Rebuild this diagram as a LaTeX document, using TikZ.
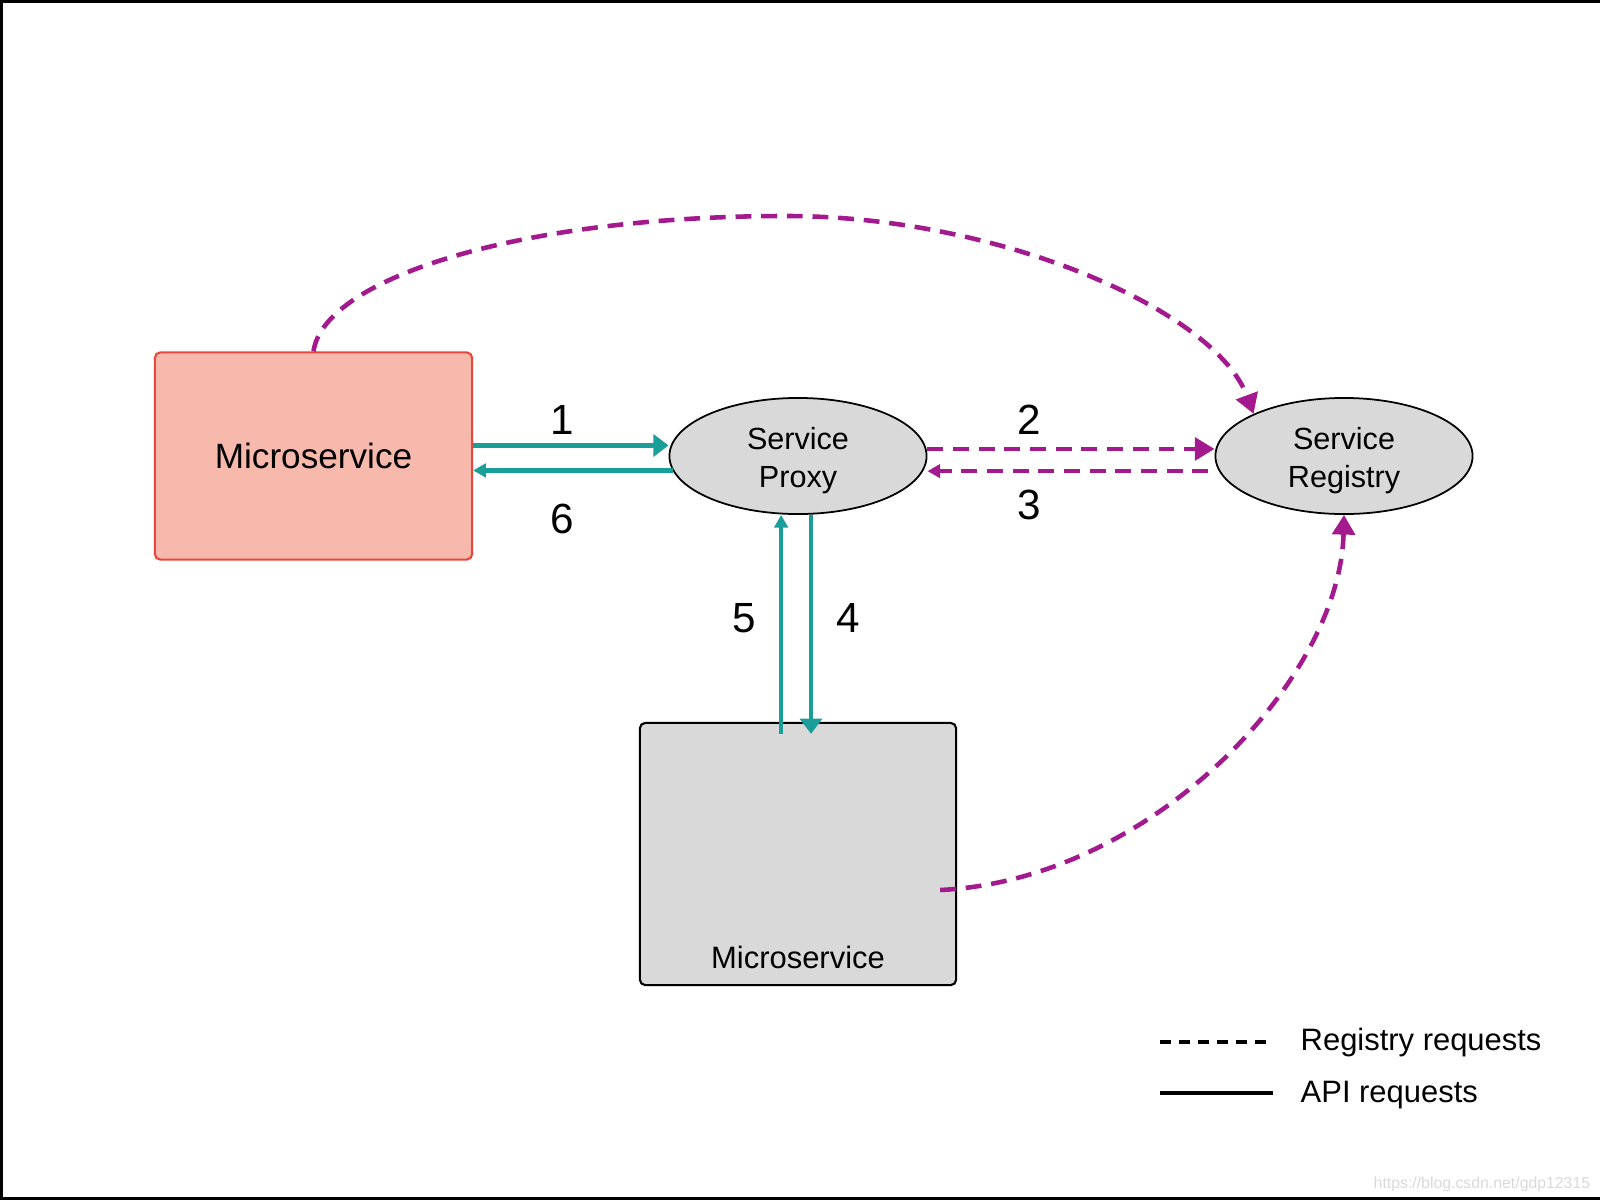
\documentclass[tikz,border=0pt]{standalone}
\usepackage{fontspec}
\setmainfont{Liberation Sans}
\usetikzlibrary{shapes.geometric,arrows.meta,calc}
\definecolor{apiteal}{HTML}{1A9E9A}
\definecolor{regpurple}{HTML}{A3198E}
\definecolor{msfill}{HTML}{F8B9AD}
\definecolor{msborder}{HTML}{E8463A}
\definecolor{boxgray}{HTML}{D9D9D9}

\begin{document}
\begin{tikzpicture}[x=0.01cm, y=-0.01cm,
  msbox/.style={shape=rectangle, draw=msborder, fill=msfill, line width=0.6pt, rounded corners=1.5pt, minimum width=3.17cm, minimum height=2.07cm, inner sep=0pt, font=\fontsize{10}{12}\selectfont},
  grbox/.style={shape=rectangle, draw=black, fill=boxgray, line width=0.6pt, rounded corners=1.5pt, minimum width=3.16cm, minimum height=2.62cm, inner sep=0pt},
  svc/.style={shape=ellipse, draw, fill=boxgray, line width=0.5pt, minimum width=2.57cm, minimum height=1.16cm, inner sep=0pt},
  svctext/.style={yshift=-1.4pt, inner sep=0pt, align=center, font=\fontsize{8.7}{10.8}\selectfont},
  num/.style={font=\fontsize{12}{14}\selectfont, inner sep=0pt},
  legtext/.style={font=\fontsize{8.8}{10}\selectfont, anchor=base west, inner sep=0pt},
  api/.style={color=apiteal, line width=1.3pt, -{Triangle[length=4.3pt,width=6.2pt]}},
  apiback/.style={color=apiteal, line width=1.3pt, -{Triangle[length=3.6pt,width=3.8pt]}},
  reg/.style={color=regpurple, line width=1.3pt, dash pattern=on 4.5pt off 2.8pt, -{Triangle[length=5.6pt,width=6.4pt]}},
  regback/.style={color=regpurple, line width=1.3pt, dash pattern=on 4.5pt off 2.8pt, -{Triangle[length=3.6pt,width=3.8pt]}}]
\useasboundingbox (0,0) rectangle (1600,1200);
\draw[line width=0.9pt] (1600,1.5) -- (1.5,1.5) -- (1.5,1198.5) -- (1600,1198.5);

\node[msbox] (ms) at (313.5,456) {Microservice};
\node[svc, label={[svctext]center:Service\\Proxy}] (proxy) at (798,456) {};
\node[svc, label={[svctext]center:Service\\Registry}] (registry) at (1344,456) {};
\node[grbox] (msb) at (798,854) {};
\node[font=\fontsize{8.8}{10}\selectfont, inner sep=0pt] (msblabel) at (798,957) {Microservice};

\node[num] (n1) at (562,420) {1};
\node[num] (n2) at (1029,420) {2};
\node[num] (n3) at (1029,505) {3};
\node[num] (n4) at (848,618) {4};
\node[num] (n5) at (744,618) {5};
\node[num] (n6) at (562,519) {6};

\path[api]
([yshift=3pt]ms.east) edge ([yshift=3pt]proxy.west)
([xshift=3.7pt]proxy.south) edge ([xshift=3.7pt,yshift=-3.4pt]msb.north);
\path[apiback]
([xshift=1.2pt,yshift=-4.1pt]proxy.west) edge ([yshift=-4.1pt]ms.east)
([xshift=-4.8pt,yshift=-3.4pt]msb.north) edge ([xshift=-4.8pt]proxy.south);
\path[reg]
([yshift=2pt]proxy.east) edge ([yshift=2pt]registry.west);
\path[regback]
([xshift=-1.8pt,yshift=-4.3pt]registry.west) edge ([yshift=-4.3pt]proxy.east);

\coordinate (arcpeak) at (786,216);
\draw[reg] (ms.north) .. controls +(10,-73) and +(-266,0) .. (arcpeak) .. controls +(214,0) and +(-38,-103) .. (registry.155);
\draw[reg] ($(msb.east)+(-17,36)$) .. controls +(211,-10) and +(-4,165) .. (registry.south);

\coordinate (regA) at (1160,1042);
\coordinate (regB) at (1273,1042);
\coordinate (apiA) at (1160,1093);
\coordinate (apiB) at (1273,1093);
\draw[line width=1pt, dash pattern=on 3pt off 2.4pt] (regA) -- (regB);
\draw[line width=1pt] (apiA) -- (apiB);
\node[legtext] (regtext) at (1300,1050) {Registry requests};
\node[legtext] (apitext) at (1300,1102) {API requests};

\node[anchor=base west, inner sep=0pt, font=\fontsize{4.5}{5}\selectfont, text=gray!30] (wm) at (1373,1188) {https://blog.csdn.net/gdp12315};
\end{tikzpicture}
\end{document}
